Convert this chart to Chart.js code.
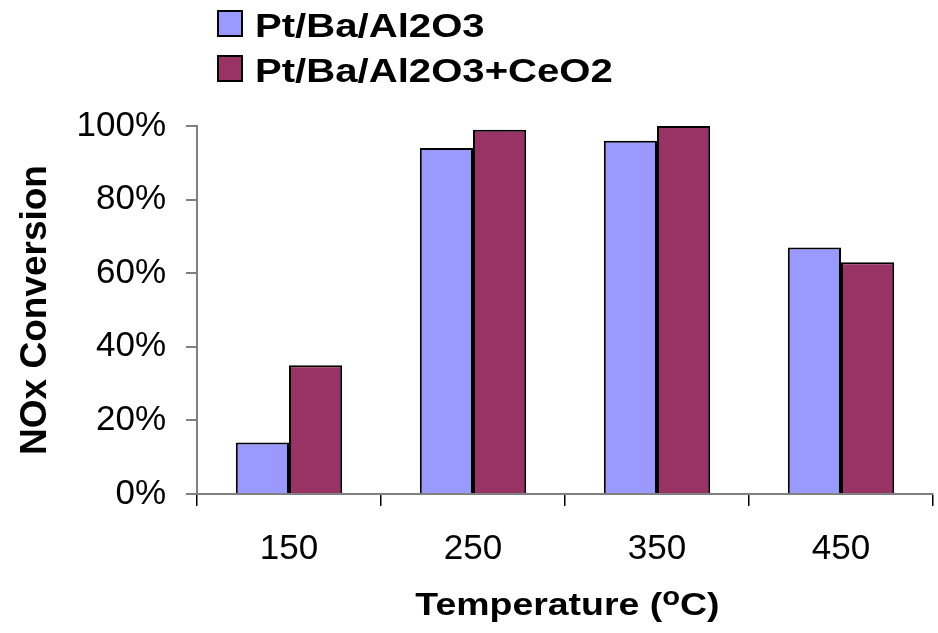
<!DOCTYPE html>
<html>
<head>
<meta charset="utf-8">
<script src="https://cdn.jsdelivr.net/npm/chart.js@4.4.0/dist/chart.umd.min.js"></script>
<style>
  body { margin: 0; background: #fff; }
  #cadre { position: relative; width: 938px; height: 633px; font-family: "Liberation Sans", Arial, sans-serif; color: #000; }
  .item { position: absolute; left: 217px; height: 27px; display: flex; align-items: center; }
  .carre { width: 22px; height: 23px; border: 2px solid #000; margin-right: 12px; }
  .nom { font-weight: bold; font-size: 34px; line-height: 27px; position: relative; top: 2px;
         transform: scaleX(1.18); transform-origin: left center; white-space: nowrap; }
  #titreX { position: absolute; left: 0; width: 970px; top: 584px; text-align: center;
            font-weight: bold; font-size: 32px; line-height: 40px; white-space: nowrap;
            transform: scaleX(1.17); transform-origin: 0 0; }
  #titreX sup { font-size: 0.78em; line-height: 0; vertical-align: 0.42em; }
</style>
</head>
<body>
<div id="cadre">
  <canvas id="myChart" width="938" height="633"></canvas>
  <div id="legende"></div>
  <div id="titreX"></div>
</div>
<script>
// les données
const temperatures = ["150", "250", "350", "450"]
const series = ["Pt/Ba/Al2O3", "Pt/Ba/Al2O3+CeO2"]
const convPtBa = [14, 94, 96, 67]
const convPtBaCe = [35, 99, 100, 63]
const etiquettesY = ["0%", "20%", "40%", "60%", "80%", "100%"]
const couleurs = ["#9999FF", "#993366"]

const police = "'Liberation Sans', Arial, sans-serif"

const datasets = [convPtBa, convPtBaCe].map((valeurs, k) => ({
  label: series[k],
  data: valeurs,
  backgroundColor: couleurs[k],
  borderColor: "#000",
  borderWidth: 2,
  borderSkipped: "bottom",
  barPercentage: 1,
  categoryPercentage: 0.578,
}))

// légende en HTML (deux lignes)
let texteHTML = ""
for (let k = 0; k < series.length; k++) {
  texteHTML += `<div class="item" style="top:${10 + k * 45}px">
      <div class="carre" style="background:${couleurs[k]}"></div>
      <span class="nom">${series[k]}</span>
    </div>`
}
document.getElementById("legende").innerHTML = texteHTML

// titre de l'axe x avec le o en exposant
document.getElementById("titreX").innerHTML = "Temperature (<sup>o</sup>C)"

const ctx = document.getElementById("myChart")
new Chart(ctx, {
  type: "bar",
  data: { labels: temperatures, datasets: datasets },
  options: {
    responsive: false,
    animation: false,
    layout: { padding: { top: 126, left: 11, right: 5, bottom: 0 } },
    plugins: { legend: { display: false }, tooltip: { enabled: false } },
    scales: {
      x: {
        afterFit: (scale) => { scale.height = 139 },
        grid: { display: true, drawOnChartArea: false, drawTicks: true, tickLength: 12, color: "#000", lineWidth: 1.5 },
        border: { display: true, color: "#808080", width: 2 },
        ticks: { color: "#000", padding: 22, font: { family: police, size: 35 } },
      },
      y: {
        min: 0,
        max: 100,
        afterFit: (scale) => { scale.width = 186 },
        grid: { display: true, drawOnChartArea: false, drawTicks: true, tickLength: 11, color: "#808080", lineWidth: 2 },
        border: { display: true, color: "#808080", width: 2 },
        ticks: {
          stepSize: 20,
          color: "#000",
          padding: 20,
          font: { family: police, size: 35 },
          callback: (v, i) => etiquettesY[i],
        },
        title: {
          display: true,
          text: "NOx Conversion",
          color: "#000",
          padding: { top: 3, bottom: 4 },
          font: { family: police, size: 37, weight: "bold" },
        },
      },
    },
  },
})
</script>
</body>
</html>
